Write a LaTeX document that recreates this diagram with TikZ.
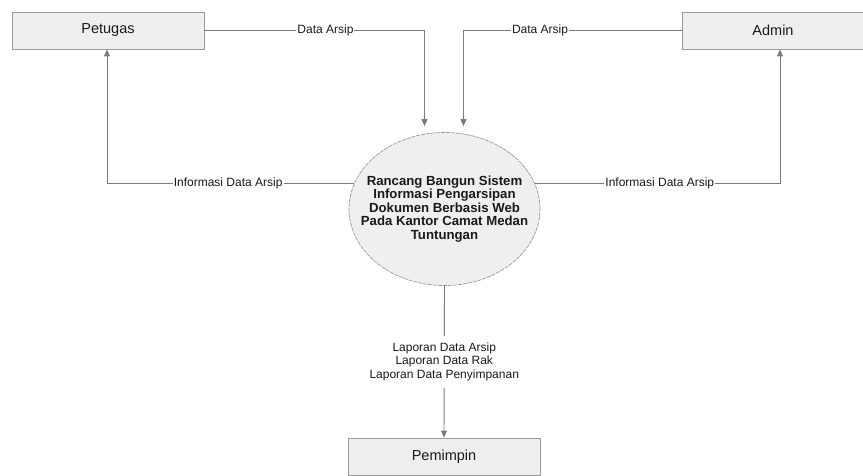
\documentclass[tikz,border=0pt]{standalone}
\usepackage{fontspec}
\setmainfont{Liberation Sans}
\usetikzlibrary{arrows.meta,shapes.geometric}
\definecolor{boxfill}{HTML}{EFEFEF}
\definecolor{boxline}{HTML}{9A9A9A}
\definecolor{flow}{HTML}{7A7A7A}
\definecolor{ink}{HTML}{1A1A1A}
\tikzset{
  entity/.style={draw=boxline, fill=boxfill, line width=0.8pt, minimum height=37pt, inner sep=0pt, font=\fontsize{14.5}{16}\selectfont, text=ink},
  proc/.style={ellipse, draw=boxline, dashed, dash pattern=on 4pt off 1pt, fill=boxfill, line width=0.7pt, minimum width=191pt, minimum height=153pt, inner xsep=-20pt, inner ysep=0pt, align=center, font=\bfseries\fontsize{13.2}{13.5}\selectfont, text=ink},
  flowline/.style={draw=flow, line width=0.9pt, -{Triangle[width=6pt,length=7pt]}},
  lbl/.style={fill=white, inner sep=1pt, font=\fontsize{12}{13.5}\selectfont, text=ink, align=center}
}
\begin{document}
\begin{tikzpicture}[x=1pt,y=-1pt]
\useasboundingbox (0,0) rectangle (863,476);
\node[entity, minimum width=192pt] (pet) at (108,30.5) {Petugas};
\node[entity, minimum width=181pt] (adm) at (773,30.5) {Admin};
\node[entity, minimum width=192pt] (pem) at (444,456.5) {Pemimpin};
\node[proc] (sys) at (444.5,209) {Rancang Bangun Sistem\\Informasi Pengarsipan\\Dokumen Berbasis Web\\Pada Kantor Camat Medan\\Tuntungan};
% Petugas -> system
\draw[flowline, shorten >=6pt] (pet.east) -| node[lbl, pos=0.275] {Data Arsip} ([xshift=-20pt]sys.north);
% Admin -> system
\draw[flowline, shorten >=6pt] (adm.west) -| node[lbl, pos=0.325] {Data Arsip} ([xshift=19pt]sys.north);
% system -> Petugas
\draw[flowline] (sys.164) -| node[lbl, pos=0.255] {Informasi Data Arsip} ([xshift=-1pt]pet.south);
% system -> Admin
\draw[flowline] (sys.16) -| node[lbl, pos=0.255] {Informasi Data Arsip} ([xshift=7pt]adm.south);
% system -> Pemimpin
\draw[flowline] (sys.south) -- node[lbl, minimum width=162pt, minimum height=52pt] {Laporan Data Arsip\\Laporan Data Rak\\Laporan Data Penyimpanan} (pem.north);
\end{tikzpicture}
\end{document}
